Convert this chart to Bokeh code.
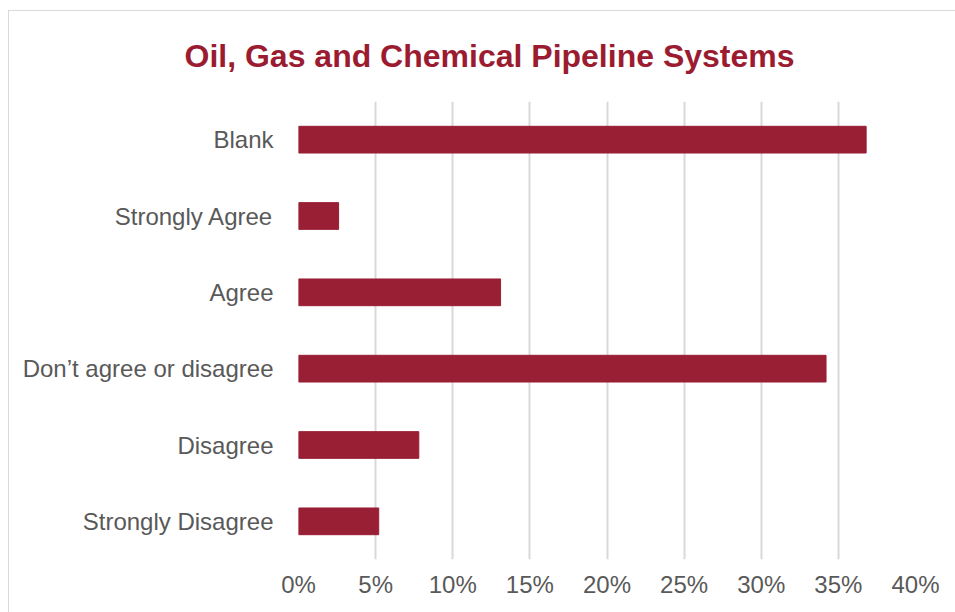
from bokeh.plotting import figure
from bokeh.models import Title, NumeralTickFormatter, FixedTicker, Range1d
from bokeh.embed import file_html
from bokeh.resources import INLINE

categories = ["Strongly Disagree", "Disagree", "Don\u2019t agree or disagree",
              "Agree", "Strongly Agree", "Blank"]
values = [0.052, 0.078, 0.342, 0.131, 0.026, 0.368]
x_ticks = [0, 0.05, 0.10, 0.15, 0.20, 0.25, 0.30, 0.35, 0.40]
title_text = "Oil, Gas and Chemical Pipeline Systems"

BAR = "#991F35"
TXT = "#595959"

p = figure(width=947, height=602, y_range=categories, x_range=Range1d(0, 0.40),
           output_backend="svg", toolbar_location=None,
           min_border_left=289, min_border_right=41, min_border_top=90,
           min_border_bottom=54, outline_line_color=None)
p.margin = (10, 0, 0, 8)
p.styles = {"border-top": "1px solid #d9d9d9", "border-left": "1px solid #d9d9d9"}

p.hbar(y=categories, right=values, left=0, height=0.35, fill_color=BAR, line_color=BAR)

t = Title(text=title_text, text_font="Liberation Sans",
          text_font_size="32px", text_font_style="bold", text_color="#9B1C31",
          align="left", offset=-114, vertical_align="top", standoff=52)
p.add_layout(t, "above")
p.title.visible = False

p.xaxis.ticker = FixedTicker(ticks=x_ticks)
p.xaxis.formatter = NumeralTickFormatter(format="0%")
for ax in (p.xaxis, p.yaxis):
    ax.axis_line_color = None
    ax.major_tick_line_color = None
    ax.minor_tick_line_color = None
    ax.major_label_text_font = "Liberation Sans"
    ax.major_label_text_font_size = "24px"
    ax.major_label_text_color = TXT
p.xaxis.major_label_standoff = 5
p.yaxis.major_label_standoff = 19

p.xgrid.grid_line_color = "#d9d9d9"
p.xgrid.grid_line_width = 2
p.ygrid.grid_line_color = None

open("out.html", "w").write(file_html(p, INLINE))
